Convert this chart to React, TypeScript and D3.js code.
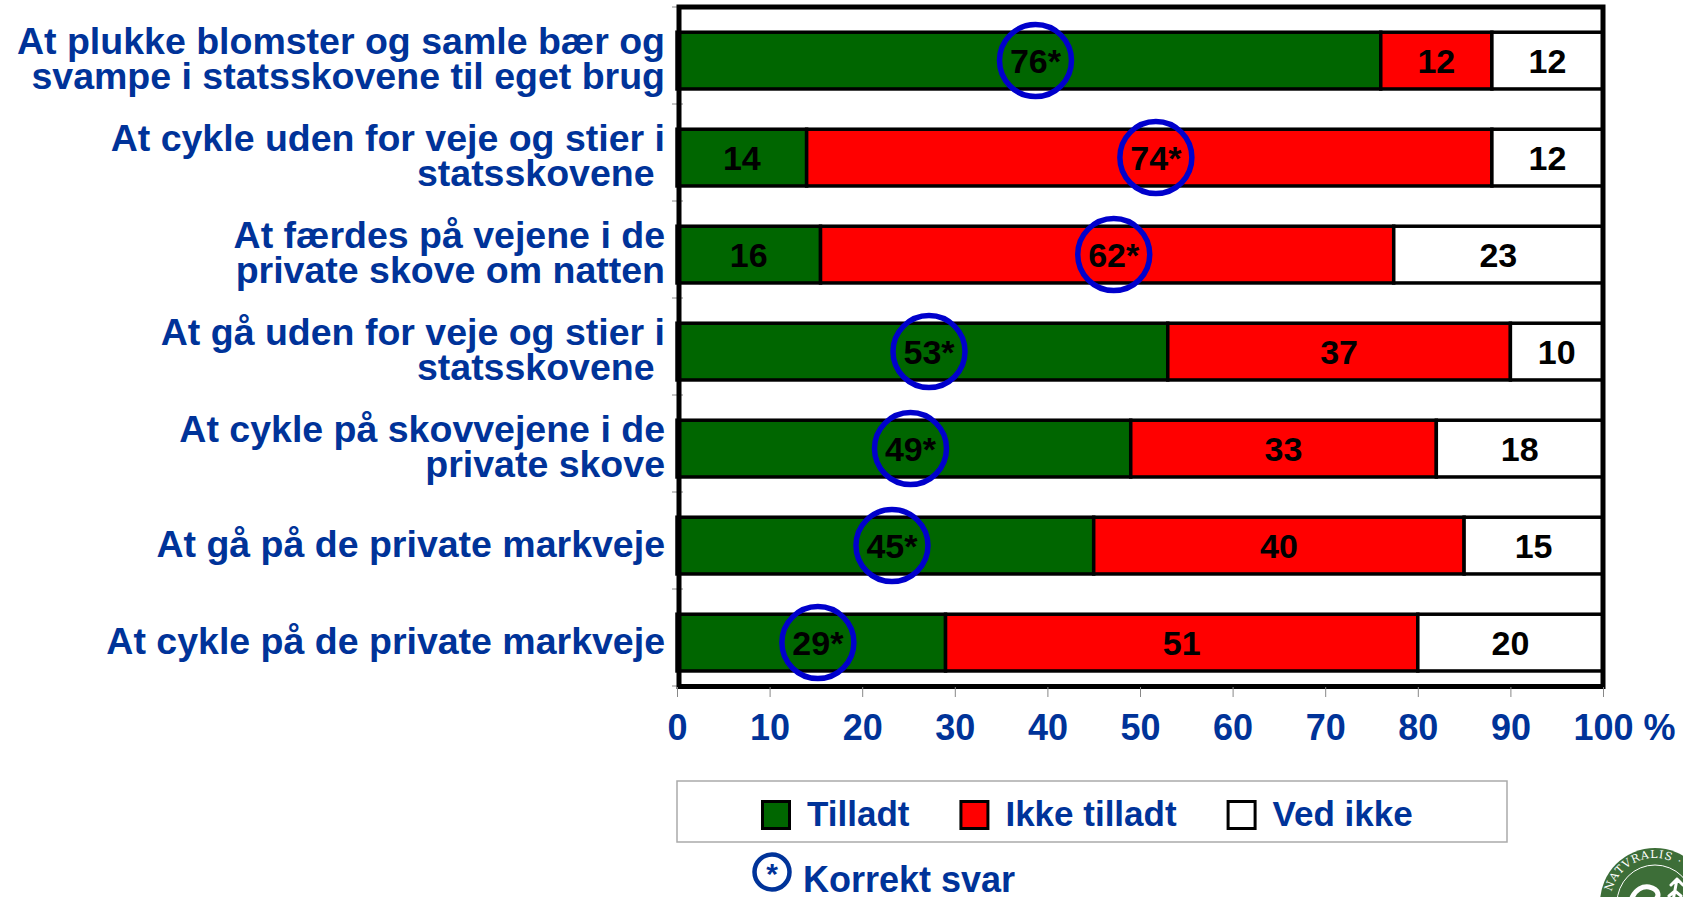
import React, { useEffect, useRef } from 'react';
import * as d3 from 'd3';

// Data (percent of respondents)
const CATEGORIES = [
  'At plukke blomster og samle bær og\nsvampe i statsskovene til eget brug',
  'At cykle uden for veje og stier i\nstatsskovene ',
  'At færdes på vejene i de\nprivate skove om natten',
  'At gå uden for veje og stier i\nstatsskovene ',
  'At cykle på skovvejene i de\nprivate skove',
  'At gå på de private markveje',
  'At cykle på de private markveje',
];
const TILLADT = [76, 14, 15.5, 53, 49, 45, 29];
const IKKE_TILLADT = [12, 74, 61.9, 37, 33, 40, 51];
const VED_IKKE = [12, 12, 22.6, 10, 18, 15, 20];
// index of the series holding the correct answer, per category
const CORRECT = [0, 1, 1, 0, 0, 0, 0];
const SERIES = ['Tilladt', 'Ikke tilladt', 'Ved ikke'];
const SERIES_COLORS = ['#006600', '#ff0000', '#ffffff'];
const X_TICKS = [0, 10, 20, 30, 40, 50, 60, 70, 80, 90, 100];

const NAVY = '#003399';
const FONT = '"Liberation Sans", Arial, Helvetica, sans-serif';

export default function App() {
  const svgRef = useRef<SVGSVGElement>(null);

  useEffect(() => {
    const width = 1683;
    const height = 897;
    const svg = d3.select(svgRef.current);
    svg.selectAll('*').remove();
    svg.attr('width', width).attr('height', height).attr('viewBox', `0 0 ${width} ${height}`);

    const x = d3.scaleLinear().domain([0, 100]).range([677, 1603]);
    const y = d3.scaleBand<number>().domain(d3.range(CATEGORIES.length)).range([7, 686]);
    const bw = y.bandwidth();

    const values = [TILLADT, IKKE_TILLADT, VED_IKKE];
    const rows = CATEGORIES.map((c, i) => {
      let acc = 0;
      const segs = values.map((s, k) => {
        const x0 = acc;
        acc += s[i];
        return { k, x0, x1: acc, v: s[i] };
      });
      return { i, segs };
    });

    // small y tick marks left of the frame
    const yEdges = [...d3.range(CATEGORIES.length).map(i => y(i)!), 686];
    svg.append('g').selectAll('line').data(yEdges).join('line')
      .attr('x1', 672).attr('x2', 683).attr('y1', d => d).attr('y2', d => d)
      .attr('stroke', '#888').attr('stroke-width', 1);

    // bars
    const barG = svg.append('g');
    rows.forEach(r => {
      const by = y(r.i)! + bw * 0.26;
      const bh = bw * 0.585;
      barG.selectAll(null).data(r.segs).join('rect')
        .attr('x', d => x(d.x0)).attr('y', by)
        .attr('width', d => x(d.x1) - x(d.x0)).attr('height', bh)
        .attr('fill', d => SERIES_COLORS[d.k])
        .attr('stroke', '#000').attr('stroke-width', 3.5);
    });

    // frame
    svg.append('rect')
      .attr('x', x(0) + 2).attr('y', 7)
      .attr('width', x(100) - x(0) - 2).attr('height', 679.5)
      .attr('fill', 'none').attr('stroke', '#000').attr('stroke-width', 5);

    // value labels + "correct answer" rings
    const labelSize = 34;
    const starShift = (0.389 * labelSize) / 2;
    rows.forEach(r => {
      const cy = y(r.i)! + bw * 0.26 + (bw * 0.585) / 2;
      r.segs.forEach(s => {
        const cx = x((s.x0 + s.x1) / 2);
        const isCorrect = CORRECT[r.i] === s.k;
        const lx = isCorrect ? cx + starShift : cx;
        svg.append('text')
          .attr('x', lx).attr('y', cy).attr('dy', '0.36em')
          .attr('text-anchor', 'middle')
          .style('font-family', FONT).style('font-weight', 'bold')
          .style('font-size', `${labelSize}px`).style('fill', '#000')
          .text(`${Math.round(s.v)}${isCorrect ? '*' : ''}`);
        if (isCorrect) {
          svg.append('circle')
            .attr('cx', lx).attr('cy', cy).attr('r', 36)
            .attr('fill', 'none').attr('stroke', '#0000cc').attr('stroke-width', 5.5);
        }
      });
    });

    // category labels
    const catSize = 37.5;
    const lineH = 35;
    CATEGORIES.forEach((c, i) => {
      const lines = c.split('\n');
      const center = y(i)! + bw / 2 + 3;
      const first = center - ((lines.length - 1) * lineH) / 2 + 0.716 * catSize / 2;
      const t = svg.append('text')
        .attr('text-anchor', 'end')
        .style('font-family', FONT).style('font-weight', 'bold')
        .style('font-size', `${catSize}px`).style('fill', NAVY)
        .style('white-space', 'pre');
      lines.forEach((ln, j) => {
        t.append('tspan').attr('x', 665).attr('y', first + j * lineH).text(ln);
      });
    });

    // x axis
    const tickSize = 36;
    const axis = svg.append('g').attr('transform', 'translate(0,687)')
      .call(d3.axisBottom(x).tickValues(X_TICKS).tickSize(10).tickPadding(17));
    axis.select('.domain').remove();
    axis.selectAll('.tick line').attr('stroke', '#888');
    axis.selectAll('.tick text')
      .style('font-family', FONT).style('font-weight', 'bold')
      .style('font-size', `${tickSize}px`).style('fill', NAVY);
    axis.selectAll<SVGTextElement, number>('.tick text')
      .filter(d => d === 100)
      .attr('text-anchor', 'start').attr('x', -(1.668 * tickSize) / 2)
      .text('100 %');

    // legend
    svg.append('rect').attr('x', 677).attr('y', 781).attr('width', 830).attr('height', 61)
      .attr('fill', '#fff').attr('stroke', '#aaa').attr('stroke-width', 1.5);
    const legSize = 35;
    let cursor = 761;
    SERIES.forEach((name, k) => {
      svg.append('rect').attr('x', cursor + 1.5).attr('y', 801.5).attr('width', 27).attr('height', 27)
        .attr('fill', SERIES_COLORS[k]).attr('stroke', '#000').attr('stroke-width', 3);
      const t = svg.append('text').attr('x', cursor + 46).attr('y', 826)
        .style('font-family', FONT).style('font-weight', 'bold')
        .style('font-size', `${legSize}px`).style('fill', NAVY).text(name);
      const w = (t.node() as SVGTextElement).getComputedTextLength();
      cursor += 46 + w + 50;
    });

    // "Korrekt svar" key
    svg.append('circle').attr('cx', 772).attr('cy', 872).attr('r', 17.5)
      .attr('fill', 'none').attr('stroke', NAVY).attr('stroke-width', 4.5);
    svg.append('text').attr('x', 772).attr('y', 884).attr('text-anchor', 'middle')
      .style('font-family', FONT).style('font-weight', 'bold').style('font-size', '30px')
      .style('fill', NAVY).text('*');
    svg.append('text').attr('x', 803).attr('y', 892)
      .style('font-family', FONT).style('font-weight', 'bold').style('font-size', '36px')
      .style('fill', NAVY).text('Korrekt svar');

    // university seal, bottom right (cut off by the slide edge)
    const seal = svg.append('g').attr('transform', 'translate(1655,903)');
    seal.append('circle').attr('r', 55).attr('fill', '#3d6e38');
    seal.append('circle').attr('r', 38).attr('fill', 'none').attr('stroke', '#fff').attr('stroke-width', 1);
    seal.append('path').attr('id', 'sealArc')
      .attr('d', 'M -45 0 A 45 45 0 0 1 45 0').attr('fill', 'none');
    seal.append('text')
      .style('font-family', '"DejaVu Serif", serif').style('font-size', '11px')
      .style('fill', '#fff').style('letter-spacing', '1px')
      .append('textPath').attr('href', '#sealArc').attr('startOffset', '8%')
      .text('NATVRALIS · SIGILLVM · ');
    seal.append('path')
      .attr('d', 'M -24 20 C -30 0 -20 -18 -6 -16 C 4 -14 6 -6 -2 -2 C -10 2 -8 12 0 14')
      .attr('fill', 'none').attr('stroke', '#fff').attr('stroke-width', 5).attr('stroke-linecap', 'round');
    seal.append('path')
      .attr('d', 'M 14 20 L 22 -24 M 22 -24 l -6 6 M 22 -24 l 6 6 M 20 -12 l -6 5 M 20 -12 l 6 5 M 18 0 l -6 5 M 18 0 l 6 5')
      .attr('fill', 'none').attr('stroke', '#fff').attr('stroke-width', 3).attr('stroke-linecap', 'round');
  }, []);

  return (
    <div style={{ position: 'absolute', left: 0, top: 0, width: 1683, height: 897, overflow: 'hidden', background: '#fff' }}>
      <svg ref={svgRef} style={{ display: 'block' }}></svg>
    </div>
  );
}
